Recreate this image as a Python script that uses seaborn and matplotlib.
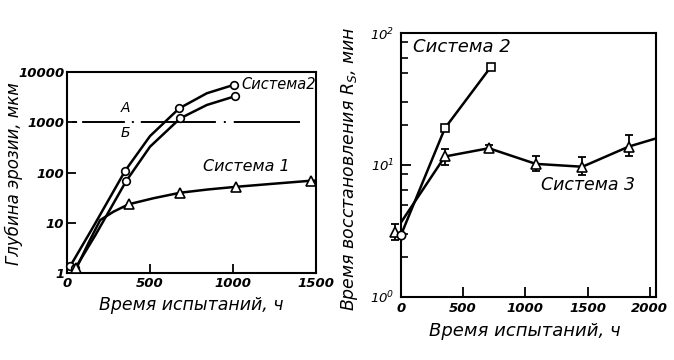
import numpy as np
import matplotlib
matplotlib.use("Agg")
import matplotlib.pyplot as plt
from matplotlib.ticker import NullLocator, LogLocator, NullFormatter
import seaborn as sns

# ---- left panel: erosion depth vs test time ----
# Система 2, upper curve (A) -- curve trace and marked points
sys2a_x = [20, 160, 351, 500, 676, 842, 1008]
sys2a_y = [1.38, 8.5, 109, 530, 1890, 3770, 5590]
sys2a_mx = [20, 351, 676, 1008]
sys2a_my = [1.38, 109, 1890, 5590]
# Система 2, lower curve (Б)
sys2b_x = [50, 170, 357, 500, 682, 842, 1015]
sys2b_y = [1.24, 5.6, 68, 326, 1197, 2204, 3316]
sys2b_mx = [50, 357, 682, 1015]
sys2b_my = [1.24, 68, 1197, 3316]
# Система 1
sys1_x = [56, 130, 200, 280, 371, 520, 682, 850, 1021, 1250, 1472, 1500]
sys1_y = [1.24, 4.0, 11.3, 16.6, 23.3, 30.7, 39.6, 46, 52, 60, 68.7, 69]
sys1_mx = [56, 371, 682, 1021, 1472]
sys1_my = [1.24, 23.3, 39.6, 52, 68.7]
# boundary A / Б
ab_level = 1000
ab_from, ab_to = 30, 1404

# ---- right panel: recovery time vs test time ----
r_sys2_x = [0, 353, 720]
r_sys2_y = [2.95, 19.0, 55]
r_sys3_x = [-50, 353, 706, 1083, 1458, 1832, 2050]
r_sys3_y = [3.12, 11.6, 13.4, 10.2, 9.7, 13.8, 15.9]
r_sys3_mx = [-50, 353, 706, 1083, 1458, 1832]
r_sys3_my = [3.12, 11.6, 13.4, 10.2, 9.7, 13.8]
r_sys3_lo = [2.70, 10.0, 12.6, 9.05, 8.4, 11.6]
r_sys3_hi = [3.57, 13.2, 14.2, 11.6, 11.4, 16.9]

sns.set_theme(style="ticks", rc={
    "axes.edgecolor": "black", "axes.linewidth": 1.5,
    "xtick.color": "black", "ytick.color": "black",
    "text.color": "black", "axes.labelcolor": "black",
})
plt.rcParams['font.family'] = ['DejaVu Sans']
plt.rcParams['font.style'] = 'italic'
plt.rcParams['mathtext.fontset'] = 'dejavusans'
plt.rcParams['mathtext.default'] = 'it'

fig = plt.figure(figsize=(6.74, 3.6), dpi=100)
W, H = 674, 360
ax1 = fig.add_axes([67 / W, 1 - 273 / H, (316 - 67) / W, (273 - 72) / H])
ax2 = fig.add_axes([401 / W, 1 - 297 / H, (656 - 401) / W, (297 - 33) / H])

lw = 1.8
mk = dict(mfc='white', mec='black', mew=1.2, ls='none', zorder=4, clip_on=False)

# left
ax1.set_yscale('log')
for xs, ys in [(sys2a_x, sys2a_y), (sys2b_x, sys2b_y), (sys1_x, sys1_y)]:
    sns.lineplot(x=xs, y=ys, ax=ax1, color='black', lw=lw, sort=False, estimator=None)
ax1.hlines(ab_level, ab_from, ab_to, color='black', lw=1.4,
           linestyles=[(0, (2.6, 2.6, 22, 3.6, 1, 3.6, 38.6, 4.1, 1, 4.1, 40, 4))])
ax1.plot(sys2a_mx, sys2a_my, 'o', ms=5.5, **mk)
ax1.plot(sys2b_mx, sys2b_my, 'o', ms=5.5, **mk)
ax1.plot(sys1_mx, sys1_my, '^', ms=6.5, **mk)
ax1.set_xlim(0, 1500)
ax1.set_ylim(1, 10000)
ax1.set_xticks([0, 500, 1000, 1500])
ax1.set_yticks([1, 10, 100, 1000, 10000], labels=['1', '10', '100', '1000', '10000'])
ax1.yaxis.set_minor_locator(NullLocator())
ax1.tick_params(direction='in', length=6.5, width=1.3, labelsize=9.5)
ax1.tick_params(axis='y', pad=2)
ax1.tick_params(axis='x', pad=3)
ax1.text(351, 1900, 'А', ha='center', va='center', fontsize=10)
ax1.text(351, 620, 'Б', ha='center', va='center', fontsize=10)
ax1.text(1053, 5690, 'Система2', ha='left', va='center', fontsize=10.5)
ax1.text(822, 130, 'Система 1', ha='left', va='center', fontsize=11.5)
ax1.set_xlabel('Время испытаний, ч', fontsize=12.5)
ax1.set_ylabel('Глубина эрозии, мкм', fontsize=12)
ax1.xaxis.set_label_coords(0.5, -0.114)
ax1.yaxis.set_label_coords(-0.175, 0.495)

# right
ax2.set_yscale('log')
sns.lineplot(x=r_sys2_x, y=r_sys2_y, ax=ax2, color='black', lw=lw, sort=False, estimator=None)
sns.lineplot(x=r_sys3_x, y=r_sys3_y, ax=ax2, color='black', lw=lw, sort=False, estimator=None)
ax2.errorbar(r_sys3_mx, r_sys3_my,
             yerr=[np.subtract(r_sys3_my, r_sys3_lo), np.subtract(r_sys3_hi, r_sys3_my)],
             fmt='none', ecolor='black', elinewidth=1.3, capsize=3, capthick=1.3, clip_on=False)
ax2.plot(r_sys3_mx, r_sys3_my, '^', ms=6.5, **mk)
ax2.plot(r_sys2_x[:1], r_sys2_y[:1], 'o', ms=6, **mk)
ax2.plot(r_sys2_x[1:], r_sys2_y[1:], 's', ms=6, **mk)
ax2.set_xlim(0, 2050)
ax2.set_ylim(1, 100)
ax2.set_xticks([0, 500, 1000, 1500, 2000])
ax2.set_yticks([1, 10, 100], labels=['$10^0$', '$10^1$', '$10^2$'])
ax2.yaxis.set_minor_locator(LogLocator(base=10, subs=(2, 3, 5, 6.5, 8.5)))
ax2.yaxis.set_minor_formatter(NullFormatter())
ax2.tick_params(direction='in', length=7, width=1.3, labelsize=9.5)
ax2.tick_params(which='minor', direction='in', length=5, width=1.2)
ax2.tick_params(axis='y', pad=5)
ax2.tick_params(axis='x', pad=3.5)
ax2.text(94, 78, 'Система 2', ha='left', va='center', fontsize=13)
ax2.text(1129, 7.0, 'Система 3', ha='left', va='center', fontsize=12.5)
ax2.set_xlabel('Время испытаний, ч', fontsize=13)
ax2.set_ylabel('Время восстановления $R_S$, мин', fontsize=12.5)
ax2.xaxis.set_label_coords(0.486, -0.094)
ax2.yaxis.set_label_coords(-0.161, 0.485)

for ax in (ax1, ax2):
    for lbl in ax.get_xticklabels() + ax.get_yticklabels():
        lbl.set_fontweight('bold')

fig.savefig('out.png', dpi=100, facecolor='white')
